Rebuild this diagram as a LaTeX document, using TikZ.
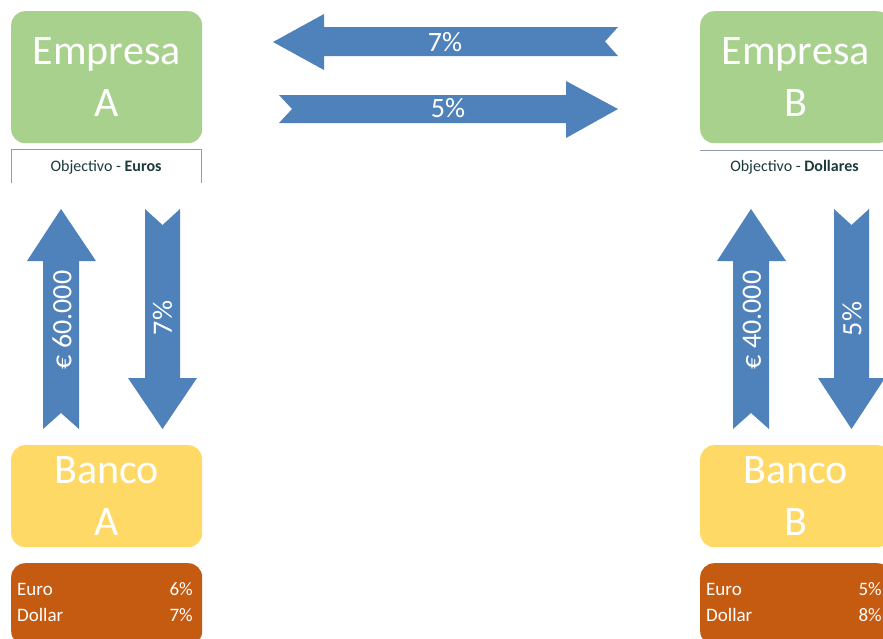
\documentclass[tikz,border=0pt]{standalone}
\usepackage{fontspec}
\setmainfont{Carlito}
\definecolor{empgreen}{HTML}{A9D18E}
\definecolor{bankyellow}{HTML}{FFD966}
\definecolor{rateorange}{HTML}{C55A11}
\definecolor{flowblue}{HTML}{4F81BA}
\definecolor{goalframe}{HTML}{8C9DB4}
\definecolor{goaltext}{HTML}{1C3A3A}
\begin{document}
\begin{tikzpicture}[x=1pt,y=-1pt,
  box/.style={rounded corners=14pt, inner sep=0pt, minimum width=191pt,
    text=white, align=center, anchor=north west,
    font=\fontsize{42}{52}\selectfont},
  empresa/.style={box, fill=empgreen, minimum height=132pt},
  banco/.style={box, fill=bankyellow, minimum height=102pt},
  rates/.style={rounded corners=14pt, inner sep=0pt, minimum width=191pt,
    minimum height=82pt, anchor=north west, fill=rateorange},
  ratetxt/.style={text=white, inner sep=0pt, font=\fontsize{19}{22}\selectfont},
  flow/.style={fill=flowblue},
  flowtxt/.style={text=white, inner sep=0pt, font=\fontsize{28}{32}\selectfont},
  goal/.style={text=goaltext, inner sep=0pt, anchor=base, font=\fontsize{16}{18}\selectfont},
]
\useasboundingbox (0,0) rectangle (883,638);
\clip (0,0) rectangle (883,638);

% companies
\node[empresa] (empA) at (11,11) {Empresa\\A};
\node[empresa] (empB) at (700,11) {Empresa\\B};

% goal labels under the companies
\draw[goalframe, line width=0.8pt] (11.5,183) -- (11.5,149.5) -- (201.5,149.5) -- (201.5,183);
\node[goal] (goalA) at (106,171) {Objectivo - \textbf{Euros}};
\draw[goalframe, line width=0.8pt] (700,150.5) -- (883,150.5);
\node[goal] (goalB) at (794.5,171) {Objectivo - \textbf{Dollares}};

% banks
\node[banco] (banA) at (11,445) {Banco\\A};
\node[banco] (banB) at (700,445) {Banco\\B};

% rate tables
\node[rates] (rateA) at (11,563) {};
\node[rates] (rateB) at (700,563) {};
\node[ratetxt, anchor=base west] (eurA) at (17,595) {Euro};
\node[ratetxt, anchor=base east] (eurAv) at (193,595) {6\%};
\node[ratetxt, anchor=base west] (dolA) at (17,621) {Dollar};
\node[ratetxt, anchor=base east] (dolAv) at (193,621) {7\%};
\node[ratetxt, anchor=base west] (eurB) at (706,595) {Euro};
\node[ratetxt, anchor=base east] (eurBv) at (882,595) {5\%};
\node[ratetxt, anchor=base west] (dolB) at (706,621) {Dollar};
\node[ratetxt, anchor=base east] (dolBv) at (882,621) {8\%};

% swap between the companies
\fill[flow] (273,42) -- (324,14) -- (324,27) -- (618,27) -- (605,41.5)
  -- (618,56) -- (324,56) -- (324,70) -- cycle;
\node[flowtxt] (swapBA) at (445,42) {7\%};
\fill[flow] (279,95) -- (566,95) -- (566,81) -- (618,109) -- (566,138)
  -- (566,123) -- (279,123) -- (292,109) -- cycle;
\node[flowtxt] (swapAB) at (448,108) {5\%};

% loans and interest, side A
\fill[flow] (61,209) -- (96,261) -- (79,261) -- (79,429) -- (61,413)
  -- (43,429) -- (43,261) -- (27,261) -- cycle;
\node[flowtxt, rotate=90] (loanA) at (62,320) {€ 60.000};
\fill[flow] (145,209) -- (162.5,225) -- (180,209) -- (180,378) -- (197,378)
  -- (162.5,429) -- (128,378) -- (145,378) -- cycle;
\node[flowtxt, rotate=90] (intA) at (162.5,318) {7\%};

% loans and interest, side B
\fill[flow] (751,209) -- (786,261) -- (769,261) -- (769,429) -- (751,413)
  -- (733,429) -- (733,261) -- (717,261) -- cycle;
\node[flowtxt, rotate=90] (loanB) at (752,320) {€ 40.000};
\fill[flow] (834,209) -- (851.5,225) -- (869,209) -- (869,378) -- (885,378)
  -- (851.5,429) -- (818,378) -- (834,378) -- cycle;
\node[flowtxt, rotate=90] (intB) at (852,319) {5\%};
\end{tikzpicture}
\end{document}
